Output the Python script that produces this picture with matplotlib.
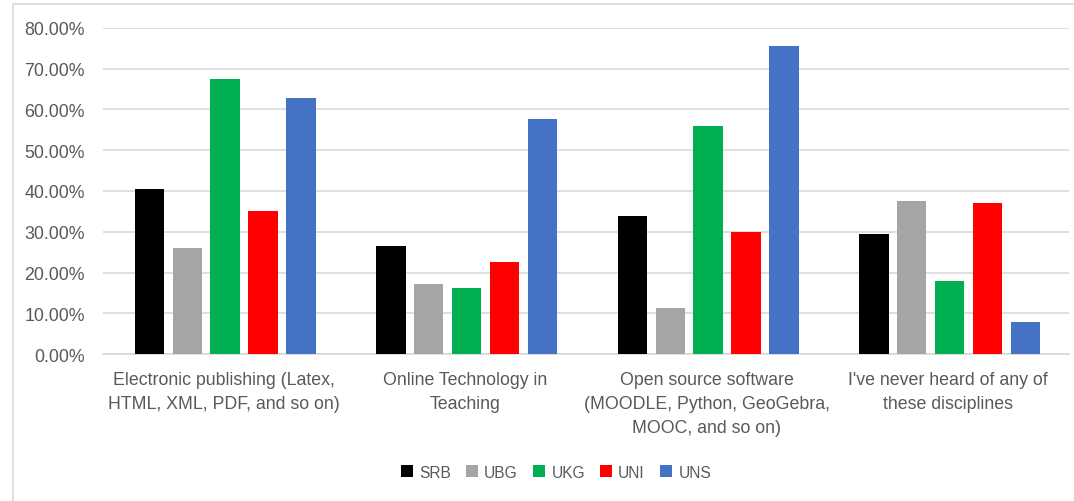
import numpy as np
import matplotlib
matplotlib.use("Agg")
import matplotlib.pyplot as plt
from matplotlib.ticker import FuncFormatter
from matplotlib.patches import Rectangle

# survey answers, share of respondents per university
categories = ["Electronic publishing (Latex,\nHTML, XML, PDF, and so on)",
              "Online Technology in\nTeaching",
              "Open source software\n(MOODLE, Python, GeoGebra,\nMOOC, and so on)",
              "I've never heard of any of\nthese disciplines"]
series = ["SRB", "UBG", "UKG", "UNI", "UNS"]
srb = [0.404, 0.266, 0.338, 0.294]
ubg = [0.261, 0.173, 0.114, 0.376]
ukg = [0.674, 0.163, 0.559, 0.178]
uni = [0.351, 0.225, 0.299, 0.371]
uns = [0.628, 0.577, 0.756, 0.079]
colors = ["#000000", "#a5a5a5", "#00b050", "#ff0000", "#4472c4"]

plt.rcParams['font.family'] = ['Liberation Sans', 'DejaVu Sans']
txt = "#595959"

fig = plt.figure(figsize=(10.74, 5.02), dpi=100)
ax = fig.add_axes([103/1074, 1-355/502, (1069-103)/1074, (355-29)/502])

# chart area border (left/top visible, rest cropped)
fig.patches.append(Rectangle((12.5/1074, -0.1), 1.2, (497/502)+0.1, transform=fig.transFigure,
                             fill=False, edgecolor="#d9d9d9", linewidth=1.2))

x = np.arange(len(categories))
step = 38/242
w = 29.5/242
for i, (name, vals) in enumerate(zip(series, [srb, ubg, ukg, uni, uns])):
    ax.bar(x + (i-2)*step + 0.006, vals, w, color=colors[i], label=name, zorder=3)

ax.set_xlim(-0.5, 3.5)
ax.set_ylim(0, 0.8)
ax.set_yticks(np.arange(0, 0.81, 0.1))
ax.yaxis.set_major_formatter(FuncFormatter(lambda v, p: f"{v*100:.2f}%"))
ax.grid(axis='y', color="#d9d9d9", linewidth=1.2, zorder=0)
for s in ["top", "right", "left"]:
    ax.spines[s].set_visible(False)
ax.spines["bottom"].set_color("#d9d9d9")
ax.spines["bottom"].set_linewidth(1.2)
ax.tick_params(axis='both', length=0, colors=txt, labelsize=12.8)
ax.tick_params(axis='y', pad=13)
ax.tick_params(axis='x', pad=12)
ax.set_xticks(x)
ax.set_xticklabels(categories, linespacing=1.55)

fig.legend(loc="center", bbox_to_anchor=(556/1074, 1-473/502), ncol=5, frameon=False,
           fontsize=11.2, labelcolor=txt, handlelength=0.75, handleheight=0.75,
           handletextpad=0.4, columnspacing=1.0)

fig.savefig("out.png", dpi=100)
